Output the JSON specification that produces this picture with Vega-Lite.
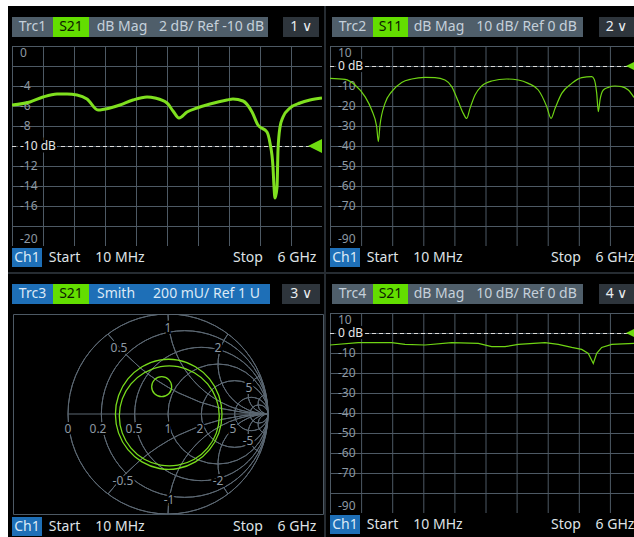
{
"$schema": "https://vega.github.io/schema/vega-lite/v6.json",
"background": "#000000",
"padding": 0,
"autosize": {"type": "pad"},
"config": {"view": {"stroke": null}, "font": "Noto Sans", "concat": {"spacing": 0}},
"datasets": {
"gxfull": [{"v":0.01},{"v":0.609},{"v":1.208},{"v":1.807},{"v":2.406},{"v":3.005},{"v":3.604},{"v":4.203},{"v":4.802},{"v":5.401},{"v":6.0}],
"gxpart": [{"v":0.01},{"v":0.609},{"v":1.208},{"v":1.807},{"v":2.406},{"v":3.005},{"v":3.604},{"v":4.203},{"v":4.802},{"v":5.401}],
"gy1": [{"v":0},{"v":-2},{"v":-4},{"v":-6},{"v":-8},{"v":-10},{"v":-12},{"v":-14},{"v":-16},{"v":-18},{"v":-20}],
"gy2": [{"v":10},{"v":0},{"v":-10},{"v":-20},{"v":-30},{"v":-40},{"v":-50},{"v":-60},{"v":-70},{"v":-80},{"v":-90}],
"lab1mid": [{"v":-4,"t":"-4"},{"v":-6,"t":"-6"},{"v":-8,"t":"-8"},{"v":-12,"t":"-12"},{"v":-14,"t":"-14"},{"v":-16,"t":"-16"}],
"lab1top": [{"v":0,"t":"0"}],
"lab1bot": [{"v":-20,"t":"-20"}],
"lab2mid": [{"v":-10,"t":"-10"},{"v":-20,"t":"-20"},{"v":-30,"t":"-30"},{"v":-40,"t":"-40"},{"v":-50,"t":"-50"},{"v":-60,"t":"-60"},{"v":-70,"t":"-70"}],
"lab2top": [{"v":10,"t":"10"}],
"lab2bot": [{"v":-90,"t":"-90"}],
"s21a": [
{"f":0.01,"db":-5.9},{"f":0.358,"db":-5.6},{"f":0.609,"db":-5.1},{"f":0.88,"db":-4.8},{"f":1.073,"db":-4.8},{"f":1.266,"db":-4.9},{"f":1.459,"db":-5.3},{"f":1.672,"db":-6.4},{"f":1.904,"db":-6.2},{"f":2.097,"db":-5.9},{"f":2.348,"db":-5.4},{"f":2.619,"db":-5.1},{"f":2.773,"db":-5.2},{"f":3.005,"db":-5.7},{"f":3.121,"db":-6.5},{"f":3.237,"db":-7.2},{"f":3.392,"db":-6.6},{"f":3.585,"db":-6.2},{"f":3.836,"db":-5.8},{"f":4.164,"db":-5.4},{"f":4.28,"db":-5.3},{"f":4.474,"db":-5.5},{"f":4.648,"db":-6.6},{"f":4.763,"db":-7.9},{"f":4.937,"db":-8.6},{"f":4.995,"db":-9.7},{"f":5.053,"db":-12.1},{"f":5.073,"db":-14.1},{"f":5.092,"db":-15.2},{"f":5.131,"db":-14.1},{"f":5.15,"db":-10.4},{"f":5.189,"db":-8.1},{"f":5.247,"db":-7.1},{"f":5.382,"db":-6.2},{"f":5.575,"db":-5.7},{"f":5.768,"db":-5.4},{"f":6.0,"db":-5.2}
],
"s11": [
{"f":0.01,"db":-6.2},{"f":0.299,"db":-6.7},{"f":0.492,"db":-9.5},{"f":0.684,"db":-15.3},{"f":0.813,"db":-22},{"f":0.909,"db":-30.3},{"f":0.94,"db":-37.8},{"f":0.973,"db":-29.6},{"f":1.069,"db":-18.7},{"f":1.198,"db":-12.8},{"f":1.391,"db":-8.2},{"f":1.584,"db":-6.5},{"f":1.84,"db":-5.7},{"f":2.032,"db":-5.8},{"f":2.225,"db":-7},{"f":2.354,"db":-10.3},{"f":2.481,"db":-17.8},{"f":2.577,"db":-23.7},{"f":2.643,"db":-26.2},{"f":2.706,"db":-21.2},{"f":2.803,"db":-14.5},{"f":2.932,"db":-10},{"f":3.124,"db":-7.5},{"f":3.413,"db":-6.5},{"f":3.637,"db":-7},{"f":3.829,"db":-8.7},{"f":4.022,"db":-12},{"f":4.184,"db":-20.3},{"f":4.267,"db":-26.2},{"f":4.344,"db":-21.2},{"f":4.473,"db":-13.7},{"f":4.665,"db":-8.7},{"f":4.858,"db":-5.8},{"f":5.05,"db":-5.3},{"f":5.1,"db":-6.7},{"f":5.147,"db":-13.7},{"f":5.178,"db":-22.8},{"f":5.21,"db":-17},{"f":5.274,"db":-12},{"f":5.37,"db":-10.7},{"f":5.499,"db":-10},{"f":5.628,"db":-10.3},{"f":5.755,"db":-12},{"f":5.865,"db":-15.7}
],
"s21b": [
{"f":0.01,"db":-6},{"f":0.555,"db":-4.8},{"f":1.198,"db":-4.8},{"f":1.454,"db":-5.7},{"f":1.84,"db":-6},{"f":2.354,"db":-4.8},{"f":2.866,"db":-5.2},{"f":3.124,"db":-6.8},{"f":3.381,"db":-6.8},{"f":3.637,"db":-5.7},{"f":4.151,"db":-4.8},{"f":4.407,"db":-5.7},{"f":4.665,"db":-7.2},{"f":4.858,"db":-8.2},{"f":4.985,"db":-10.2},{"f":5.081,"db":-15.2},{"f":5.147,"db":-10.2},{"f":5.243,"db":-7.2},{"f":5.436,"db":-5.7},{"f":5.865,"db":-5.2}
],
"smith": [
{"loop":"a","i":0,"re":0.54,"im":-0.003},{"loop":"a","i":1,"re":0.508,"im":0.185},{"loop":"a","i":2,"re":0.415,"im":0.351},{"loop":"a","i":3,"re":0.274,"im":0.473},{"loop":"a","i":4,"re":0.1,"im":0.539},{"loop":"a","i":5,"re":-0.086,"im":0.539},{"loop":"a","i":6,"re":-0.26,"im":0.473},{"loop":"a","i":7,"re":-0.401,"im":0.351},{"loop":"a","i":8,"re":-0.494,"im":0.185},{"loop":"a","i":9,"re":-0.526,"im":-0.003},{"loop":"a","i":10,"re":-0.494,"im":-0.191},{"loop":"a","i":11,"re":-0.401,"im":-0.357},{"loop":"a","i":12,"re":-0.26,"im":-0.479},{"loop":"a","i":13,"re":-0.086,"im":-0.545},{"loop":"a","i":14,"re":0.1,"im":-0.545},{"loop":"a","i":15,"re":0.274,"im":-0.479},{"loop":"a","i":16,"re":0.415,"im":-0.357},{"loop":"a","i":17,"re":0.508,"im":-0.191},
{"loop":"b","i":0,"re":0.513,"im":-0.02},{"loop":"b","i":1,"re":0.483,"im":0.151},{"loop":"b","i":2,"re":0.396,"im":0.302},{"loop":"b","i":3,"re":0.263,"im":0.413},{"loop":"b","i":4,"re":0.1,"im":0.473},{"loop":"b","i":5,"re":-0.074,"im":0.473},{"loop":"b","i":6,"re":-0.237,"im":0.413},{"loop":"b","i":7,"re":-0.37,"im":0.302},{"loop":"b","i":8,"re":-0.457,"im":0.151},{"loop":"b","i":9,"re":-0.487,"im":-0.02},{"loop":"b","i":10,"re":-0.457,"im":-0.191},{"loop":"b","i":11,"re":-0.37,"im":-0.341},{"loop":"b","i":12,"re":-0.237,"im":-0.453},{"loop":"b","i":13,"re":-0.074,"im":-0.512},{"loop":"b","i":14,"re":0.1,"im":-0.512},{"loop":"b","i":15,"re":0.263,"im":-0.453},{"loop":"b","i":16,"re":0.396,"im":-0.341},{"loop":"b","i":17,"re":0.483,"im":-0.191},
{"loop":"c","i":0,"re":0.037,"im":0.273},{"loop":"c","i":1,"re":0.008,"im":0.344},{"loop":"c","i":2,"re":-0.063,"im":0.373},{"loop":"c","i":3,"re":-0.134,"im":0.344},{"loop":"c","i":4,"re":-0.163,"im":0.273},{"loop":"c","i":5,"re":-0.134,"im":0.202},{"loop":"c","i":6,"re":-0.063,"im":0.173},{"loop":"c","i":7,"re":0.008,"im":0.202}
],
"smithgrid": [
{"cx":0,"cy":0,"R":1,"t1":0,"t2":6.2832},
{"cx":0.1667,"cy":0,"R":0.8333,"t1":0,"t2":6.2832},
{"cx":0.3333,"cy":0,"R":0.6667,"t1":0,"t2":6.2832},
{"cx":0.5,"cy":0,"R":0.5,"t1":0,"t2":6.2832},
{"cx":0.6667,"cy":0,"R":0.3333,"t1":0,"t2":6.2832},
{"cx":0.8333,"cy":0,"R":0.1667,"t1":0,"t2":6.2832},
{"cx":0.9091,"cy":0,"R":0.0909,"t1":0,"t2":6.2832},
{"cx":1,"cy":2,"R":2,"t1":3.1416,"t2":4.0689},
{"cx":1,"cy":-2,"R":2,"t1":-0.9273,"t2":0},
{"cx":1,"cy":1,"R":1,"t1":3.1416,"t2":4.7124},
{"cx":1,"cy":-1,"R":1,"t1":-1.5708,"t2":0},
{"cx":1,"cy":0.5,"R":0.5,"t1":3.1416,"t2":5.3559},
{"cx":1,"cy":-0.5,"R":0.5,"t1":-2.2143,"t2":0},
{"cx":1,"cy":0.2,"R":0.2,"t1":3.1416,"t2":5.8884},
{"cx":1,"cy":-0.2,"R":0.2,"t1":-2.7468,"t2":0},
{"cx":1,"cy":0.1,"R":0.1,"t1":3.1416,"t2":6.0839},
{"cx":1,"cy":-0.1,"R":0.1,"t1":-2.9423,"t2":0}
],
"smithlab": [
{"lx":-1.0,"ly":-0.15,"t":"0"},{"lx":-0.7,"ly":-0.15,"t":"0.2"},{"lx":-0.34,"ly":-0.15,"t":"0.5"},{"lx":0.0,"ly":-0.15,"t":"1"},{"lx":0.32,"ly":-0.15,"t":"2"},{"lx":0.65,"ly":-0.15,"t":"5"},
{"lx":-0.49,"ly":0.66,"t":"0.5"},{"lx":0.0,"ly":0.86,"t":"1"},{"lx":0.5,"ly":0.66,"t":"2"},{"lx":0.81,"ly":0.26,"t":"5"},
{"lx":0.8,"ly":-0.27,"t":"-5"},{"lx":0.5,"ly":-0.67,"t":"-2"},{"lx":0.01,"ly":-0.86,"t":"-1"},{"lx":-0.45,"ly":-0.67,"t":"-0.5"}
]
},
"spacing": 0,
"vconcat": [
{"width":634,"height":6,"view":{"fill":"#ffffff"},"data":{"values":[]},"mark":"rect"},
{"spacing":0,"hconcat":[
{"width":8,"height":531,"view":{"fill":"#ffffff"},"data":{"values":[]},"mark":"rect"},
{"spacing":0,"vconcat":[
{"spacing":0,"hconcat":[
{"spacing":0,"vconcat":[
{"width":316,"height":11,"data":{"values":[]},"mark":"rect"},
{"spacing":0,"hconcat":[
{"width":4,"height":20,"data":{"values":[]},"mark":"rect"},
{"width":41,"height":20,"view":{"fill":"#4f5e6a"},"data":{"values":[{"t":"Trc1"}]},"mark":{"type":"text","fontSize":14,"color":"#c5d0da"},"encoding":{"text":{"field":"t"}}},
{"width":36,"height":20,"view":{"fill":"#63de00"},"data":{"values":[{"t":"S21"}]},"mark":{"type":"text","fontSize":14,"color":"#0d1a00"},"encoding":{"text":{"field":"t"}}},
{"width":66,"height":20,"view":{"fill":"#4f5e6a"},"data":{"values":[{"t":"dB Mag"}]},"mark":{"type":"text","fontSize":14,"color":"#c5d0da"},"encoding":{"text":{"field":"t"}}},
{"width":113,"height":20,"view":{"fill":"#4f5e6a"},"data":{"values":[{"t":"2 dB/ Ref -10 dB"}]},"mark":{"type":"text","fontSize":14,"color":"#c5d0da"},"encoding":{"text":{"field":"t"}}},
{"width":15,"height":20,"data":{"values":[]},"mark":"rect"},
{"width":36,"height":20,"view":{"fill":"#2e353c"},"data":{"values":[{"t":"1 ∨"}]},"mark":{"type":"text","fontSize":14,"color":"#e8ecef"},"encoding":{"text":{"field":"t"}}}
]},
{"width":1,"height":9,"data":{"values":[]},"mark":"rect"},
{"spacing":0,"hconcat":[
{"width":4,"height":200,"data":{"values":[]},"mark":"rect"},
{"width":310,"height":200,
"layer":[
{"data":{"name":"gxfull"},"mark":{"type":"rule","color":"#4d5964","strokeWidth":1,"xOffset":0.5,"clip":true},"encoding":{"x":{"field":"v","type":"quantitative","scale":{"domain":[0.01,6],"nice":false,"zero":false},"axis":null}}},
{"data":{"name":"gy1"},"mark":{"type":"rule","color":"#4d5964","strokeWidth":1,"yOffset":0.5,"clip":true},"encoding":{"y":{"field":"v","type":"quantitative","scale":{"domain":[-20,0],"nice":false,"zero":false},"axis":null}}},
{"data":{"name":"lab1mid"},"mark":{"type":"text","align":"left","baseline":"middle","dx":8,"fontSize":12,"color":"#8e99a3","clip":true},"encoding":{"x":{"datum":0.01,"axis":null},"y":{"field":"v","type":"quantitative","axis":null},"text":{"field":"t"}}},
{"data":{"name":"lab1top"},"mark":{"type":"text","align":"left","baseline":"top","dx":8,"dy":2,"fontSize":12,"color":"#8e99a3","clip":true},"encoding":{"x":{"datum":0.01,"axis":null},"y":{"field":"v","type":"quantitative","axis":null},"text":{"field":"t"}}},
{"data":{"name":"lab1bot"},"mark":{"type":"text","align":"left","baseline":"bottom","dx":8,"fontSize":12,"color":"#8e99a3","clip":true},"encoding":{"x":{"datum":0.01,"axis":null},"y":{"field":"v","type":"quantitative","axis":null},"text":{"field":"t"}}},
{"data":{"values":[{}]},"mark":{"type":"rule","color":"#dcdcdc","strokeDash":[4,3],"strokeWidth":1,"yOffset":0.5,"clip":true},"encoding":{"x":{"datum":0.01,"axis":null},"x2":{"datum":6},"y":{"datum":-10,"axis":null}}},
{"data":{"name":"s21a"},"mark":{"type":"line","color":"#7fe01f","strokeWidth":3,"interpolate":"monotone","clip":true},
"encoding":{"x":{"field":"f","type":"quantitative","axis":null},"y":{"field":"db","type":"quantitative","axis":null}}},
{"data":{"values":[{}]},"mark":{"type":"text","align":"left","dx":8,"fontSize":12,"color":"#000000","stroke":"#000000","strokeWidth":5,"clip":true},"encoding":{"x":{"datum":0.01,"axis":null},"y":{"datum":-10,"axis":null},"text":{"value":"-10 dB"}}},
{"data":{"values":[{}]},"mark":{"type":"text","align":"left","dx":8,"fontSize":12,"color":"#e6e6e6","clip":true},"encoding":{"x":{"datum":0.01,"axis":null},"y":{"datum":-10,"axis":null},"text":{"value":"-10 dB"}}},
{"data":{"values":[{}]},"mark":{"type":"point","shape":"M -2 0 L 0 -1 L 0 1 Z","filled":true,"color":"#6fdc10","size":196,"opacity":1,"clip":true},"encoding":{"x":{"datum":6,"axis":null},"y":{"datum":-10,"axis":null}}}
]}
]},
{"width":1,"height":2,"data":{"values":[]},"mark":"rect"},
{"spacing":0,"hconcat":[
{"width":4,"height":19,"data":{"values":[]},"mark":"rect"},
{"width":30,"height":19,"view":{"fill":"#1e6fb7"},"data":{"values":[{"t":"Ch1"}]},"mark":{"type":"text","fontSize":14,"color":"#dbe9f6"},"encoding":{"text":{"field":"t"}}},
{"width":45,"height":19,"data":{"values":[{"t":"Start"}]},"mark":{"type":"text","fontSize":14,"color":"#dfe3e6"},"encoding":{"text":{"field":"t"}}},
{"width":66,"height":19,"data":{"values":[{"t":"10 MHz"}]},"mark":{"type":"text","fontSize":14,"color":"#dfe3e6"},"encoding":{"text":{"field":"t"}}},
{"width":66,"height":19,"data":{"values":[]},"mark":"rect"},
{"width":58,"height":19,"data":{"values":[{"t":"Stop"}]},"mark":{"type":"text","fontSize":14,"color":"#dfe3e6"},"encoding":{"text":{"field":"t"}}},
{"width":38,"height":19,"data":{"values":[{"t":"6 GHz"}]},"mark":{"type":"text","fontSize":14,"color":"#dfe3e6"},"encoding":{"text":{"field":"t"}}}
]},
{"width":1,"height":5,"data":{"values":[]},"mark":"rect"}
]},
{"width":2,"height":266,"view":{"fill":"#262c32"},"data":{"values":[]},"mark":"rect"},
{"spacing":0,"vconcat":[
{"width":308,"height":11,"data":{"values":[]},"mark":"rect"},
{"spacing":0,"hconcat":[
{"width":6,"height":20,"data":{"values":[]},"mark":"rect"},
{"width":41,"height":20,"view":{"fill":"#4f5e6a"},"data":{"values":[{"t":"Trc2"}]},"mark":{"type":"text","fontSize":14,"color":"#c5d0da"},"encoding":{"text":{"field":"t"}}},
{"width":35,"height":20,"view":{"fill":"#63de00"},"data":{"values":[{"t":"S11"}]},"mark":{"type":"text","fontSize":14,"color":"#0d1a00"},"encoding":{"text":{"field":"t"}}},
{"width":62,"height":20,"view":{"fill":"#4f5e6a"},"data":{"values":[{"t":"dB Mag"}]},"mark":{"type":"text","fontSize":14,"color":"#c5d0da"},"encoding":{"text":{"field":"t"}}},
{"width":113,"height":20,"view":{"fill":"#4f5e6a"},"data":{"values":[{"t":"10 dB/ Ref 0 dB"}]},"mark":{"type":"text","fontSize":14,"color":"#c5d0da"},"encoding":{"text":{"field":"t"}}},
{"width":16,"height":20,"data":{"values":[]},"mark":"rect"},
{"width":35,"height":20,"view":{"fill":"#2e353c"},"data":{"values":[{"t":"2 ∨"}]},"mark":{"type":"text","fontSize":14,"color":"#e8ecef"},"encoding":{"text":{"field":"t"}}}
]},
{"width":1,"height":9,"data":{"values":[]},"mark":"rect"},
{"spacing":0,"hconcat":[
{"width":4,"height":200,"data":{"values":[]},"mark":"rect"},
{"width":304,"height":200,
"layer":[
{"data":{"name":"gxpart"},"mark":{"type":"rule","color":"#4d5964","strokeWidth":1,"xOffset":0.5,"clip":true},"encoding":{"x":{"field":"v","type":"quantitative","scale":{"domain":[0.01,5.865],"nice":false,"zero":false},"axis":null}}},
{"data":{"name":"gy2"},"mark":{"type":"rule","color":"#4d5964","strokeWidth":1,"yOffset":0.5,"clip":true},"encoding":{"y":{"field":"v","type":"quantitative","scale":{"domain":[-90,10],"nice":false,"zero":false},"axis":null}}},
{"data":{"name":"lab2mid"},"mark":{"type":"text","align":"left","baseline":"middle","dx":8,"fontSize":12,"color":"#8e99a3","clip":true},"encoding":{"x":{"datum":0.01,"axis":null},"y":{"field":"v","type":"quantitative","axis":null},"text":{"field":"t"}}},
{"data":{"name":"lab2top"},"mark":{"type":"text","align":"left","baseline":"top","dx":8,"dy":2,"fontSize":12,"color":"#8e99a3","clip":true},"encoding":{"x":{"datum":0.01,"axis":null},"y":{"field":"v","type":"quantitative","axis":null},"text":{"field":"t"}}},
{"data":{"name":"lab2bot"},"mark":{"type":"text","align":"left","baseline":"bottom","dx":8,"fontSize":12,"color":"#8e99a3","clip":true},"encoding":{"x":{"datum":0.01,"axis":null},"y":{"field":"v","type":"quantitative","axis":null},"text":{"field":"t"}}},
{"data":{"values":[{}]},"mark":{"type":"rule","color":"#dcdcdc","strokeDash":[4,3],"strokeWidth":1,"yOffset":0.5,"clip":true},"encoding":{"x":{"datum":0.01,"axis":null},"x2":{"datum":5.865},"y":{"datum":0,"axis":null}}},
{"data":{"name":"s11"},"mark":{"type":"line","color":"#6fd414","strokeWidth":1.2,"interpolate":"monotone","clip":true},
"encoding":{"x":{"field":"f","type":"quantitative","axis":null},"y":{"field":"db","type":"quantitative","axis":null}}},
{"data":{"values":[{}]},"mark":{"type":"text","align":"left","dx":8,"fontSize":12,"color":"#000000","stroke":"#000000","strokeWidth":5,"clip":true},"encoding":{"x":{"datum":0.01,"axis":null},"y":{"datum":0,"axis":null},"text":{"value":"0 dB"}}},
{"data":{"values":[{}]},"mark":{"type":"text","align":"left","dx":8,"fontSize":12,"color":"#e6e6e6","clip":true},"encoding":{"x":{"datum":0.01,"axis":null},"y":{"datum":0,"axis":null},"text":{"value":"0 dB"}}},
{"data":{"values":[{}]},"mark":{"type":"point","shape":"M -2 0 L 0 -1 L 0 1 Z","filled":true,"color":"#6fdc10","size":64,"opacity":1,"clip":true},"encoding":{"x":{"datum":5.865,"axis":null},"y":{"datum":0,"axis":null}}}
]}
]},
{"width":1,"height":2,"data":{"values":[]},"mark":"rect"},
{"spacing":0,"hconcat":[
{"width":4,"height":19,"data":{"values":[]},"mark":"rect"},
{"width":30,"height":19,"view":{"fill":"#1e6fb7"},"data":{"values":[{"t":"Ch1"}]},"mark":{"type":"text","fontSize":14,"color":"#dbe9f6"},"encoding":{"text":{"field":"t"}}},
{"width":45,"height":19,"data":{"values":[{"t":"Start"}]},"mark":{"type":"text","fontSize":14,"color":"#dfe3e6"},"encoding":{"text":{"field":"t"}}},
{"width":66,"height":19,"data":{"values":[{"t":"10 MHz"}]},"mark":{"type":"text","fontSize":14,"color":"#dfe3e6"},"encoding":{"text":{"field":"t"}}},
{"width":66,"height":19,"data":{"values":[]},"mark":"rect"},
{"width":58,"height":19,"data":{"values":[{"t":"Stop"}]},"mark":{"type":"text","fontSize":14,"color":"#dfe3e6"},"encoding":{"text":{"field":"t"}}},
{"width":38,"height":19,"data":{"values":[{"t":"6 GHz"}]},"mark":{"type":"text","fontSize":14,"color":"#dfe3e6"},"encoding":{"text":{"field":"t"}}}
]},
{"width":1,"height":5,"data":{"values":[]},"mark":"rect"}
]}
]},
{"width":626,"height":2,"view":{"fill":"#262c32"},"data":{"values":[]},"mark":"rect"},
{"spacing":0,"hconcat":[
{"spacing":0,"vconcat":[
{"width":316,"height":10,"data":{"values":[]},"mark":"rect"},
{"spacing":0,"hconcat":[
{"width":4,"height":20,"data":{"values":[]},"mark":"rect"},
{"width":41,"height":20,"view":{"fill":"#1e6fb7"},"data":{"values":[{"t":"Trc3"}]},"mark":{"type":"text","fontSize":14,"color":"#dbe9f6"},"encoding":{"text":{"field":"t"}}},
{"width":36,"height":20,"view":{"fill":"#63de00"},"data":{"values":[{"t":"S21"}]},"mark":{"type":"text","fontSize":14,"color":"#0d1a00"},"encoding":{"text":{"field":"t"}}},
{"width":54,"height":20,"view":{"fill":"#1e6fb7"},"data":{"values":[{"t":"Smith"}]},"mark":{"type":"text","fontSize":14,"color":"#dbe9f6"},"encoding":{"text":{"field":"t"}}},
{"width":127,"height":20,"view":{"fill":"#1e6fb7"},"data":{"values":[{"t":"200 mU/ Ref 1 U"}]},"mark":{"type":"text","fontSize":14,"color":"#dbe9f6"},"encoding":{"text":{"field":"t"}}},
{"width":12,"height":20,"data":{"values":[]},"mark":"rect"},
{"width":38,"height":20,"view":{"fill":"#2e353c"},"data":{"values":[{"t":"3 ∨"}]},"mark":{"type":"text","fontSize":14,"color":"#e8ecef"},"encoding":{"text":{"field":"t"}}}
]},
{"width":1,"height":9,"data":{"values":[]},"mark":"rect"},
{"spacing":0,"hconcat":[
{"width":4,"height":200,"data":{"values":[]},"mark":"rect"},
{"width":310,"height":200,"view":{"stroke":"#4d5964","strokeWidth":1},
"layer":[
{"data":{"name":"smithgrid"},"mark":{"type":"arc","fill":"#000000","fillOpacity":0,"stroke":"#5c6873","strokeWidth":1,"clip":true},
"encoding":{
"x":{"field":"cx","type":"quantitative","scale":{"domain":[-1.55,1.55],"nice":false,"zero":false},"axis":null},
"y":{"field":"cy","type":"quantitative","scale":{"domain":[-1,1],"nice":false,"zero":false},"axis":null},
"theta":{"field":"t1","type":"quantitative","scale":null,"stack":null},
"theta2":{"field":"t2"},
"radius":{"field":"R","type":"quantitative","scale":{"type":"linear","domain":[0,1],"range":[0,100],"zero":true}},
"radius2":{"field":"R"}
}},
{"data":{"values":[{}]},"mark":{"type":"rule","color":"#5c6873","strokeWidth":1,"clip":true},"encoding":{"x":{"datum":-1,"axis":null},"x2":{"datum":1},"y":{"datum":0,"axis":null}}},
{"data":{"name":"smith"},"mark":{"type":"line","color":"#78dc1c","strokeWidth":1.3,"interpolate":"cardinal-closed","clip":true},
"encoding":{
"x":{"field":"re","type":"quantitative","axis":null},
"y":{"field":"im","type":"quantitative","axis":null},
"detail":{"field":"loop"},
"order":{"field":"i","type":"quantitative"}
}},
{"data":{"name":"smithlab"},"mark":{"type":"text","fontSize":12,"color":"#000000","stroke":"#000000","strokeWidth":4,"clip":true},
"encoding":{"x":{"field":"lx","type":"quantitative","axis":null},"y":{"field":"ly","type":"quantitative","axis":null},"text":{"field":"t"}}},
{"data":{"name":"smithlab"},"mark":{"type":"text","fontSize":12,"color":"#8e99a3","clip":true},
"encoding":{"x":{"field":"lx","type":"quantitative","axis":null},"y":{"field":"ly","type":"quantitative","axis":null},"text":{"field":"t"}}}
]}
]},
{"width":1,"height":2,"data":{"values":[]},"mark":"rect"},
{"spacing":0,"hconcat":[
{"width":4,"height":19,"data":{"values":[]},"mark":"rect"},
{"width":30,"height":19,"view":{"fill":"#1e6fb7"},"data":{"values":[{"t":"Ch1"}]},"mark":{"type":"text","fontSize":14,"color":"#dbe9f6"},"encoding":{"text":{"field":"t"}}},
{"width":45,"height":19,"data":{"values":[{"t":"Start"}]},"mark":{"type":"text","fontSize":14,"color":"#dfe3e6"},"encoding":{"text":{"field":"t"}}},
{"width":66,"height":19,"data":{"values":[{"t":"10 MHz"}]},"mark":{"type":"text","fontSize":14,"color":"#dfe3e6"},"encoding":{"text":{"field":"t"}}},
{"width":66,"height":19,"data":{"values":[]},"mark":"rect"},
{"width":58,"height":19,"data":{"values":[{"t":"Stop"}]},"mark":{"type":"text","fontSize":14,"color":"#dfe3e6"},"encoding":{"text":{"field":"t"}}},
{"width":38,"height":19,"data":{"values":[{"t":"6 GHz"}]},"mark":{"type":"text","fontSize":14,"color":"#dfe3e6"},"encoding":{"text":{"field":"t"}}}
]},
{"width":1,"height":3,"data":{"values":[]},"mark":"rect"}
]},
{"width":2,"height":263,"view":{"fill":"#262c32"},"data":{"values":[]},"mark":"rect"},
{"spacing":0,"vconcat":[
{"width":308,"height":10,"data":{"values":[]},"mark":"rect"},
{"spacing":0,"hconcat":[
{"width":6,"height":20,"data":{"values":[]},"mark":"rect"},
{"width":41,"height":20,"view":{"fill":"#4f5e6a"},"data":{"values":[{"t":"Trc4"}]},"mark":{"type":"text","fontSize":14,"color":"#c5d0da"},"encoding":{"text":{"field":"t"}}},
{"width":35,"height":20,"view":{"fill":"#63de00"},"data":{"values":[{"t":"S21"}]},"mark":{"type":"text","fontSize":14,"color":"#0d1a00"},"encoding":{"text":{"field":"t"}}},
{"width":62,"height":20,"view":{"fill":"#4f5e6a"},"data":{"values":[{"t":"dB Mag"}]},"mark":{"type":"text","fontSize":14,"color":"#c5d0da"},"encoding":{"text":{"field":"t"}}},
{"width":113,"height":20,"view":{"fill":"#4f5e6a"},"data":{"values":[{"t":"10 dB/ Ref 0 dB"}]},"mark":{"type":"text","fontSize":14,"color":"#c5d0da"},"encoding":{"text":{"field":"t"}}},
{"width":16,"height":20,"data":{"values":[]},"mark":"rect"},
{"width":35,"height":20,"view":{"fill":"#2e353c"},"data":{"values":[{"t":"4 ∨"}]},"mark":{"type":"text","fontSize":14,"color":"#e8ecef"},"encoding":{"text":{"field":"t"}}}
]},
{"width":1,"height":9,"data":{"values":[]},"mark":"rect"},
{"spacing":0,"hconcat":[
{"width":4,"height":200,"data":{"values":[]},"mark":"rect"},
{"width":304,"height":200,
"layer":[
{"data":{"name":"gxpart"},"mark":{"type":"rule","color":"#4d5964","strokeWidth":1,"xOffset":0.5,"clip":true},"encoding":{"x":{"field":"v","type":"quantitative","scale":{"domain":[0.01,5.865],"nice":false,"zero":false},"axis":null}}},
{"data":{"name":"gy2"},"mark":{"type":"rule","color":"#4d5964","strokeWidth":1,"yOffset":0.5,"clip":true},"encoding":{"y":{"field":"v","type":"quantitative","scale":{"domain":[-90,10],"nice":false,"zero":false},"axis":null}}},
{"data":{"name":"lab2mid"},"mark":{"type":"text","align":"left","baseline":"middle","dx":8,"fontSize":12,"color":"#8e99a3","clip":true},"encoding":{"x":{"datum":0.01,"axis":null},"y":{"field":"v","type":"quantitative","axis":null},"text":{"field":"t"}}},
{"data":{"name":"lab2top"},"mark":{"type":"text","align":"left","baseline":"top","dx":8,"dy":2,"fontSize":12,"color":"#8e99a3","clip":true},"encoding":{"x":{"datum":0.01,"axis":null},"y":{"field":"v","type":"quantitative","axis":null},"text":{"field":"t"}}},
{"data":{"name":"lab2bot"},"mark":{"type":"text","align":"left","baseline":"bottom","dx":8,"fontSize":12,"color":"#8e99a3","clip":true},"encoding":{"x":{"datum":0.01,"axis":null},"y":{"field":"v","type":"quantitative","axis":null},"text":{"field":"t"}}},
{"data":{"values":[{}]},"mark":{"type":"rule","color":"#dcdcdc","strokeDash":[4,3],"strokeWidth":1,"yOffset":0.5,"clip":true},"encoding":{"x":{"datum":0.01,"axis":null},"x2":{"datum":5.865},"y":{"datum":0,"axis":null}}},
{"data":{"name":"s21b"},"mark":{"type":"line","color":"#6fd414","strokeWidth":1.2,"clip":true},
"encoding":{"x":{"field":"f","type":"quantitative","axis":null},"y":{"field":"db","type":"quantitative","axis":null}}},
{"data":{"values":[{}]},"mark":{"type":"text","align":"left","dx":8,"fontSize":12,"color":"#000000","stroke":"#000000","strokeWidth":5,"clip":true},"encoding":{"x":{"datum":0.01,"axis":null},"y":{"datum":0,"axis":null},"text":{"value":"0 dB"}}},
{"data":{"values":[{}]},"mark":{"type":"text","align":"left","dx":8,"fontSize":12,"color":"#e6e6e6","clip":true},"encoding":{"x":{"datum":0.01,"axis":null},"y":{"datum":0,"axis":null},"text":{"value":"0 dB"}}},
{"data":{"values":[{}]},"mark":{"type":"point","shape":"M -2 0 L 0 -1 L 0 1 Z","filled":true,"color":"#6fdc10","size":64,"opacity":1,"clip":true},"encoding":{"x":{"datum":5.865,"axis":null},"y":{"datum":0,"axis":null}}}
]}
]},
{"width":1,"height":2,"data":{"values":[]},"mark":"rect"},
{"spacing":0,"hconcat":[
{"width":4,"height":19,"data":{"values":[]},"mark":"rect"},
{"width":30,"height":19,"view":{"fill":"#1e6fb7"},"data":{"values":[{"t":"Ch1"}]},"mark":{"type":"text","fontSize":14,"color":"#dbe9f6"},"encoding":{"text":{"field":"t"}}},
{"width":45,"height":19,"data":{"values":[{"t":"Start"}]},"mark":{"type":"text","fontSize":14,"color":"#dfe3e6"},"encoding":{"text":{"field":"t"}}},
{"width":66,"height":19,"data":{"values":[{"t":"10 MHz"}]},"mark":{"type":"text","fontSize":14,"color":"#dfe3e6"},"encoding":{"text":{"field":"t"}}},
{"width":66,"height":19,"data":{"values":[]},"mark":"rect"},
{"width":58,"height":19,"data":{"values":[{"t":"Stop"}]},"mark":{"type":"text","fontSize":14,"color":"#dfe3e6"},"encoding":{"text":{"field":"t"}}},
{"width":38,"height":19,"data":{"values":[{"t":"6 GHz"}]},"mark":{"type":"text","fontSize":14,"color":"#dfe3e6"},"encoding":{"text":{"field":"t"}}}
]},
{"width":1,"height":3,"data":{"values":[]},"mark":"rect"}
]}
]}
]}
]}
]
}
